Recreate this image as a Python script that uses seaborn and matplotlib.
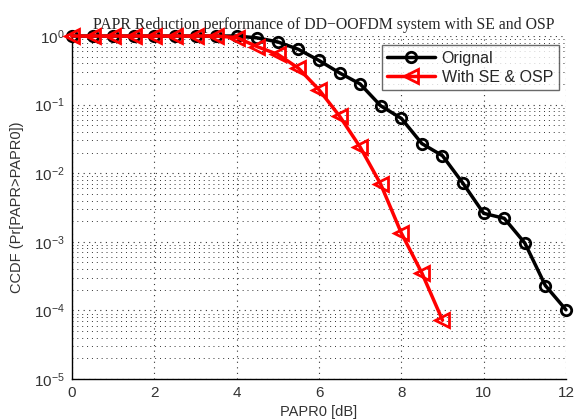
import matplotlib
matplotlib.use("Agg")
import matplotlib.pyplot as plt
import seaborn as sns
import numpy as np
import pandas as pd
from matplotlib.ticker import LogLocator, NullFormatter

# PAPR thresholds in dB
papr_orig = [0, 0.5, 1, 1.5, 2, 2.5, 3, 3.5, 4, 4.5, 5, 5.5, 6, 6.5, 7, 7.5,
             8, 8.5, 9, 9.5, 10, 10.5, 11, 11.5, 12]
ccdf_orig = [1.0, 1.0, 1.0, 1.0, 1.0, 1.0, 1.0, 1.0, 1.0, 0.94, 0.82, 0.64,
             0.44, 0.29, 0.20, 0.096, 0.063, 0.027, 0.018, 0.0071, 0.0026,
             0.0022, 0.00096, 0.00023, 0.000102]

papr_se = [0, 0.5, 1, 1.5, 2, 2.5, 3, 3.5, 4, 4.5, 5, 5.5, 6, 6.5, 7, 7.5,
           8, 8.5, 9]
ccdf_se = [1.0, 1.0, 1.0, 1.0, 1.0, 1.0, 1.0, 1.0, 0.95, 0.70, 0.54, 0.34,
           0.165, 0.068, 0.024, 0.0069, 0.00134, 0.00035, 0.000072]

labels = ["Orignal", "With SE & OSP"]

sns.set_style("white")
plt.rcParams["font.family"] = ["Liberation Sans", "DejaVu Sans"]

fig = plt.figure(figsize=(5.79, 4.19), dpi=100)
ax = fig.add_axes([0.1244, 0.0955, 0.8531, 0.8185])

df_o = pd.DataFrame({"x": papr_orig, "y": ccdf_orig})
df_s = pd.DataFrame({"x": papr_se, "y": ccdf_se})

sns.lineplot(data=df_o, x="x", y="y", ax=ax, color="black", lw=2.5,
             marker="o", markersize=7.5, markerfacecolor="none",
             markeredgecolor="black", markeredgewidth=2.0, label=labels[0],
             clip_on=False, zorder=4)
sns.lineplot(data=df_s, x="x", y="y", ax=ax, color="red", lw=2.5,
             marker="<", markersize=9.5, markerfacecolor="none",
             markeredgecolor="red", markeredgewidth=2.0, label=labels[1],
             clip_on=False, zorder=5)

ax.set_yscale("log")
ax.set_xlim(0, 12)
ax.set_ylim(1e-5, 1)
ax.set_xticks([0, 2, 4, 6, 8, 10, 12])
ax.yaxis.set_major_locator(LogLocator(base=10, numticks=10))
ax.yaxis.set_minor_locator(LogLocator(base=10, subs=np.arange(2, 10), numticks=20))
ax.yaxis.set_minor_formatter(NullFormatter())

ax.grid(True, which="major", axis="both", color="#333333", linestyle=(0, (1, 4)), linewidth=0.8)
ax.grid(True, which="minor", axis="y", color="#333333", linestyle=(0, (1, 4)), linewidth=0.7)

for s in ["top", "right"]:
    ax.spines[s].set_visible(False)
for s in ["left", "bottom"]:
    ax.spines[s].set_color("black")
    ax.spines[s].set_linewidth(1.0)

ax.tick_params(axis="both", which="major", direction="in", length=5, width=0.8,
               labelsize=11, colors="black", pad=5)
ax.tick_params(axis="y", which="minor", direction="in", length=3, width=0.6)
for lab in ax.get_xticklabels() + ax.get_yticklabels():
    lab.set_color("#333333")

ax.set_xlabel("PAPR0 [dB]", fontsize=10.5, color="#333333", labelpad=4)
ax.set_ylabel("CCDF (Pr[PAPR>PAPR0])", fontsize=10.5, color="#333333", labelpad=7)
ax.set_title("PAPR Reduction performance of DD\u2212OOFDM system with SE and OSP",
             fontsize=11.3, family=["Liberation Serif", "DejaVu Serif"], pad=5,
             x=0.51)

leg = ax.legend(loc="upper right", bbox_to_anchor=(0.985, 0.974), fontsize=11.5,
                frameon=True, fancybox=False, edgecolor="#444444",
                handlelength=3.0, borderpad=0.35, labelspacing=0.25,
                handletextpad=0.4, borderaxespad=0)
leg.get_frame().set_linewidth(1.0)
leg.get_frame().set_facecolor("white")
leg.set_zorder(10)

fig.savefig("out.png", dpi=100, facecolor="white")
